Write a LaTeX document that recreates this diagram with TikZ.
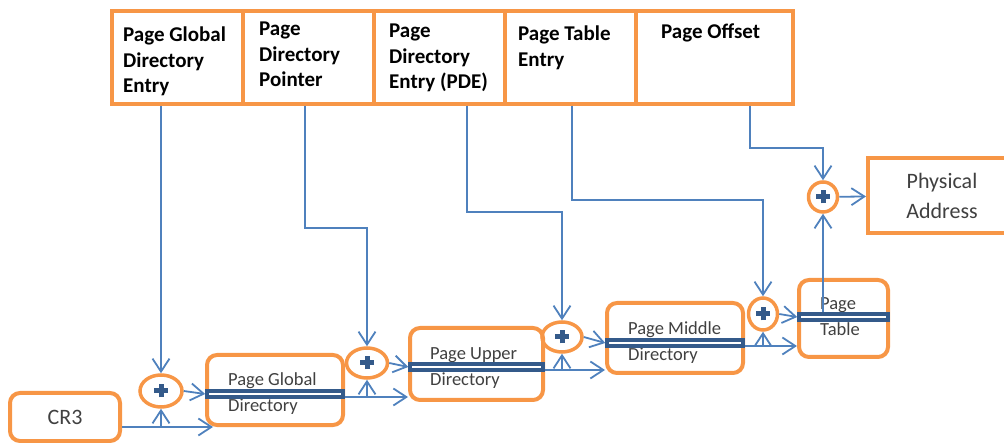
\documentclass[tikz,border=0pt]{standalone}
\usepackage{fontspec}
\setmainfont{Carlito}
\usetikzlibrary{arrows.meta,shapes.geometric}

\definecolor{bordorange}{RGB}{247,150,70}
\definecolor{lienbleu}{RGB}{79,129,189}
\definecolor{barbleu}{RGB}{52,90,138}
\definecolor{textegris}{RGB}{64,64,64}

\begin{document}
\begin{tikzpicture}[x=1pt,y=-1pt,
    champ/.style={draw=bordorange,line width=3.5pt,minimum width=131pt,minimum height=93pt,inner sep=0pt},
    titre/.style={anchor=north west,inner sep=0pt,align=left,font=\fontsize{21}{25.5}\selectfont\bfseries},
    repertoire/.style={draw=bordorange,line width=4pt,rounded corners=10pt,inner sep=0pt},
    nomrep/.style={anchor=north west,inner sep=0pt,align=left,text=textegris,font=\fontsize{18.5}{26}\selectfont},
    barre/.style={draw=barbleu,fill=white,line width=3.5pt,minimum height=6pt,inner sep=0pt},
    somme/.style={ellipse,draw=bordorange,line width=3.5pt,inner sep=0pt,
        path picture={
            \draw[barbleu,line width=5pt] ([xshift=-7pt]path picture bounding box.center) -- ([xshift=7pt]path picture bounding box.center);
            \draw[barbleu,line width=5pt] ([yshift=-6.5pt]path picture bounding box.center) -- ([yshift=6.5pt]path picture bounding box.center);
        }},
    lien/.style={draw=lienbleu,line width=1.8pt,-{Straight Barb[length=13pt,width=17pt,line width=1.8pt]}},
    trait/.style={draw=lienbleu,line width=1.8pt}]

    \useasboundingbox (0,0) rectangle (1004,443);

    % Champs de l'adresse lineaire
    \node[champ] (hdrpgd) at (177.5,57.5) {};
    \node[champ] (hdrpdp) at (308.5,57.5) {};
    \node[champ] (hdrpde) at (439.5,57.5) {};
    \node[champ] (hdrpte) at (570.5,57.5) {};
    \node[champ,minimum width=157pt] (hdroff) at (714.5,57.5) {};
    \node[titre] (tpgd) at (123,27) {Page Global\\Directory\\Entry};
    \node[titre] (tpdp) at (259,22) {Page\\Directory\\Pointer};
    \node[titre] (tpde) at (389,24) {Page\\Directory\\Entry (PDE)};
    \node[titre] (tpte) at (518,26) {Page Table\\Entry};
    \node[titre] (toff) at (661,24) {Page Offset};

    % Registre et tables
    \node[repertoire,minimum width=110pt,minimum height=48pt,text=textegris,
          font=\fontsize{22}{26}\selectfont] (cr3) at (65,417) {CR3};
    \node[repertoire,minimum width=136pt,minimum height=70pt] (pgd) at (275,390) {};
    \node[repertoire,minimum width=133pt,minimum height=72pt] (pud) at (476.5,364) {};
    \node[repertoire,minimum width=136pt,minimum height=70pt] (pmd) at (675,338) {};
    \node[repertoire,minimum width=89pt,minimum height=77pt] (pt) at (843.5,318.5) {};
    \node[draw=bordorange,line width=4pt,minimum width=148pt,minimum height=75pt,
          align=center,text=textegris,font=\fontsize{22}{30}\selectfont] (phys) at (942,195.5) {Physical\\Address};

    \node[nomrep] (npgd) at (228,372) {Page Global\\Directory};
    \node[nomrep] (npud) at (430,347) {Page Upper\\Directory};
    \node[nomrep] (npmd) at (628,321) {Page Middle\\Directory};
    \node[nomrep] (npt) at (820,297) {Page\\Table};

    % Entrees selectionnees
    \node[barre,minimum width=136pt] (pgdbar) at (275,394) {};
    \node[barre,minimum width=133pt] (pudbar) at (476.5,367) {};
    \node[barre,minimum width=136pt] (pmdbar) at (675,343) {};
    \node[barre,minimum width=89pt] (ptbar) at (843.5,317) {};

    % Additionneurs
    \node[somme,minimum width=42pt,minimum height=32pt] (sumpgd) at (161,391) {};
    \node[somme,minimum width=41pt,minimum height=30pt] (sumpud) at (367,363) {};
    \node[somme,minimum width=40pt,minimum height=30pt] (sumpmd) at (562,337) {};
    \node[somme,minimum width=29pt,minimum height=32pt] (sumpt) at (763,314) {};
    \node[somme,minimum width=29pt,minimum height=30pt] (sumphys) at (823,197) {};

    % Coudes
    \coordinate (bendpdp) at (305,228);
    \coordinate (bendpde) at (467,212);
    \coordinate (bendpte) at (572,200);
    \coordinate (bendoff) at (750,148);
    \coordinate (cr3out) at ([yshift=-10pt]cr3.east);

    % Index vers les additionneurs
    \draw[lien] (hdrpgd.south -| sumpgd) -- (sumpgd);
    \draw[lien] (hdrpdp.south -| bendpdp) -- (bendpdp) -| (sumpud);
    \draw[lien] (hdrpde.south -| bendpde) -- (bendpde) -| (sumpmd);
    \draw[lien] (hdrpte.south -| bendpte) -- (bendpte) -| (sumpt);
    \draw[lien] (hdroff.south -| bendoff) -- (bendoff) -| (sumphys);

    % Bases des tables
    \draw[lien] (cr3out) -- ([xshift=8pt]pgd.west |- cr3out);
    \draw[lien] (cr3out -| sumpgd) -- (sumpgd);
    \draw[lien] ([yshift=-3pt]pgdbar.east) -- ([yshift=-3pt]pgdbar.east -| pud.west);
    \draw[lien] ([yshift=-3pt]pgdbar.east -| sumpud) -- (sumpud);
    \draw[lien] ([yshift=-3pt]pudbar.east) -- ([yshift=-3pt]pudbar.east -| pmd.west);
    \draw[lien] ([yshift=-3pt]pudbar.east -| sumpmd) -- (sumpmd);
    \draw[lien] ([yshift=-3pt]pmdbar.east) -- ([yshift=-3pt]pmdbar.east -| pt.west);
    \draw[lien] ([yshift=-3pt]pmdbar.east -| sumpt) -- (sumpt);
    \draw[lien] (ptbar.north -| sumphys) -- (sumphys);

    % Sorties des additionneurs
    \draw[lien] (sumpgd.east) -- (pgdbar.west);
    \draw[lien] (sumpud.east) -- (pudbar.west);
    \draw[lien] (sumpmd.east) -- (pmdbar.west);
    \draw[lien] (sumpt.east) -- (ptbar.west);
    \draw[lien] (sumphys) -- (phys);
\end{tikzpicture}
\end{document}
